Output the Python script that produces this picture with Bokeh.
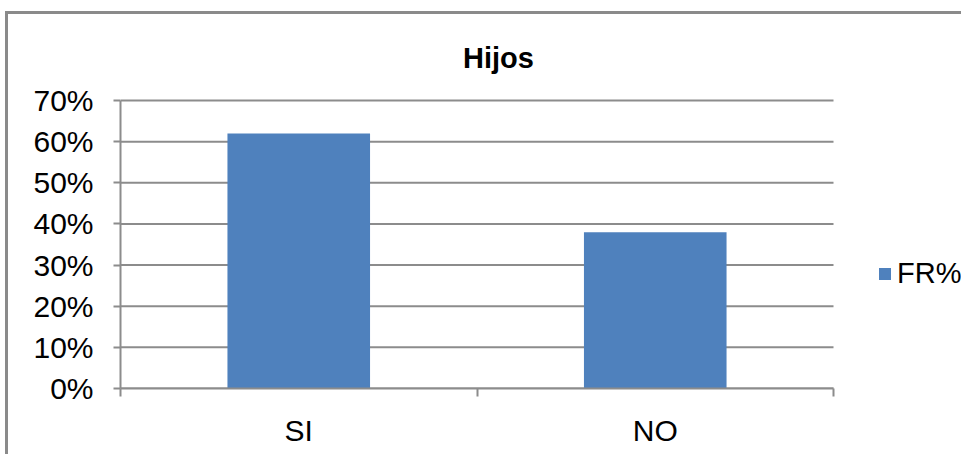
from bokeh.plotting import figure
from bokeh.models import Range1d, FixedTicker, Label, Legend, LegendItem, ColumnDataSource
from bokeh.embed import file_html
from bokeh.resources import INLINE

# ---- data ----
title_text = "Hijos"
categories = ["SI", "NO"]
values = [0.62, 0.38]
series_name = "FR%"
y_ticks = [0.0, 0.1, 0.2, 0.3, 0.4, 0.5, 0.6, 0.7]
y_tick_labels = ["0%", "10%", "20%", "30%", "40%", "50%", "60%", "70%"]
y_max = 0.7

# ---- layout (pixels) ----
W, H = 961, 454
PLOT_L, PLOT_R, PLOT_T, PLOT_B = 120, 833, 100, 388   # the drawn plot area
FRAME_T = 16                                           # frame extends above for the title
FONT = "Liberation Sans"
GRAY = "#8c8c8c"
BAR = "#4F81BD"

n = len(categories)
px_per_x = (PLOT_R - PLOT_L) / n
px_per_y = (PLOT_B - PLOT_T) / y_max
x_end = (W - PLOT_L) / px_per_x
y_end = (PLOT_B - FRAME_T) / px_per_y

xs = [i + 0.5 for i in range(n)]
src = ColumnDataSource(dict(x=xs, top=values, cat=categories))

p = figure(width=W, height=H, output_backend="svg", toolbar_location=None,
           x_range=Range1d(0, x_end), y_range=Range1d(0, y_end),
           min_border_left=PLOT_L, min_border_right=0, min_border_top=FRAME_T,
           min_border_bottom=H - PLOT_B)
p.styles = {"background": "linear-gradient(#8a8a8a,#8a8a8a) 5px 11px / 3px 100% no-repeat, "
                          "linear-gradient(#8a8a8a,#8a8a8a) 5px 11px / 100% 3px no-repeat, #ffffff"}
p.outline_line_color = None
p.background_fill_color = None
p.border_fill_color = None

# horizontal gridlines, only across the plot area
p.segment(x0=[0] * len(y_ticks), x1=[n] * len(y_ticks), y0=y_ticks, y1=y_ticks,
          line_color=GRAY, line_width=2)

bars = p.vbar(x="x", top="top", width=0.4, bottom=0, source=src,
              fill_color=BAR, line_color=None)

# y axis
p.yaxis.bounds = (0, y_max)
p.yaxis.ticker = FixedTicker(ticks=y_ticks)
p.yaxis.major_label_overrides = {t: l for t, l in zip(y_ticks, y_tick_labels)}
p.yaxis.axis_line_color = GRAY
p.yaxis.axis_line_width = 2
p.yaxis.major_tick_line_color = GRAY
p.yaxis.major_tick_line_width = 2
p.yaxis.major_tick_out = 7
p.yaxis.major_tick_in = 0
p.yaxis.minor_tick_line_color = None
p.yaxis.major_label_text_font = FONT
p.yaxis.major_label_text_font_size = "30px"
p.yaxis.major_label_text_color = "black"
p.yaxis.major_label_standoff = 20

# x axis
p.xaxis.bounds = (0, n)
p.xaxis.ticker = FixedTicker(ticks=xs, minor_ticks=[float(i) for i in range(n + 1)])
p.xaxis.major_label_overrides = {x: c for x, c in zip(xs, categories)}
p.xaxis.axis_line_color = GRAY
p.xaxis.axis_line_width = 2
p.xaxis.major_tick_line_color = None
p.xaxis.major_tick_out = 0
p.xaxis.major_tick_in = 0
p.xaxis.minor_tick_line_color = GRAY
p.xaxis.minor_tick_line_width = 2
p.xaxis.minor_tick_out = 8
p.xaxis.minor_tick_in = 0
p.xaxis.major_label_text_font = FONT
p.xaxis.major_label_text_font_size = "30px"
p.xaxis.major_label_text_color = "black"
p.xaxis.major_label_standoff = 17

p.xgrid.visible = False
p.ygrid.visible = False

# title (inside the extended frame, above the plot area)
p.add_layout(Label(x=(498 - PLOT_L) / px_per_x, y=(PLOT_B - 57) / px_per_y, text=title_text,
                   text_font=FONT, text_font_size="29px", text_font_style="bold",
                   text_align="center", text_baseline="alphabetic", text_color="black"))

# legend
legend = Legend(items=[LegendItem(label=series_name, renderers=[bars])],
                location=(757, 98), orientation="vertical",
                glyph_width=15, glyph_height=15, label_standoff=5,
                label_text_font=FONT, label_text_font_size="29px", label_text_color="black",
                padding=0, spacing=0, margin=0,
                border_line_color=None, background_fill_alpha=0)
p.add_layout(legend)

open("out.html", "w").write(file_html(p, INLINE))
